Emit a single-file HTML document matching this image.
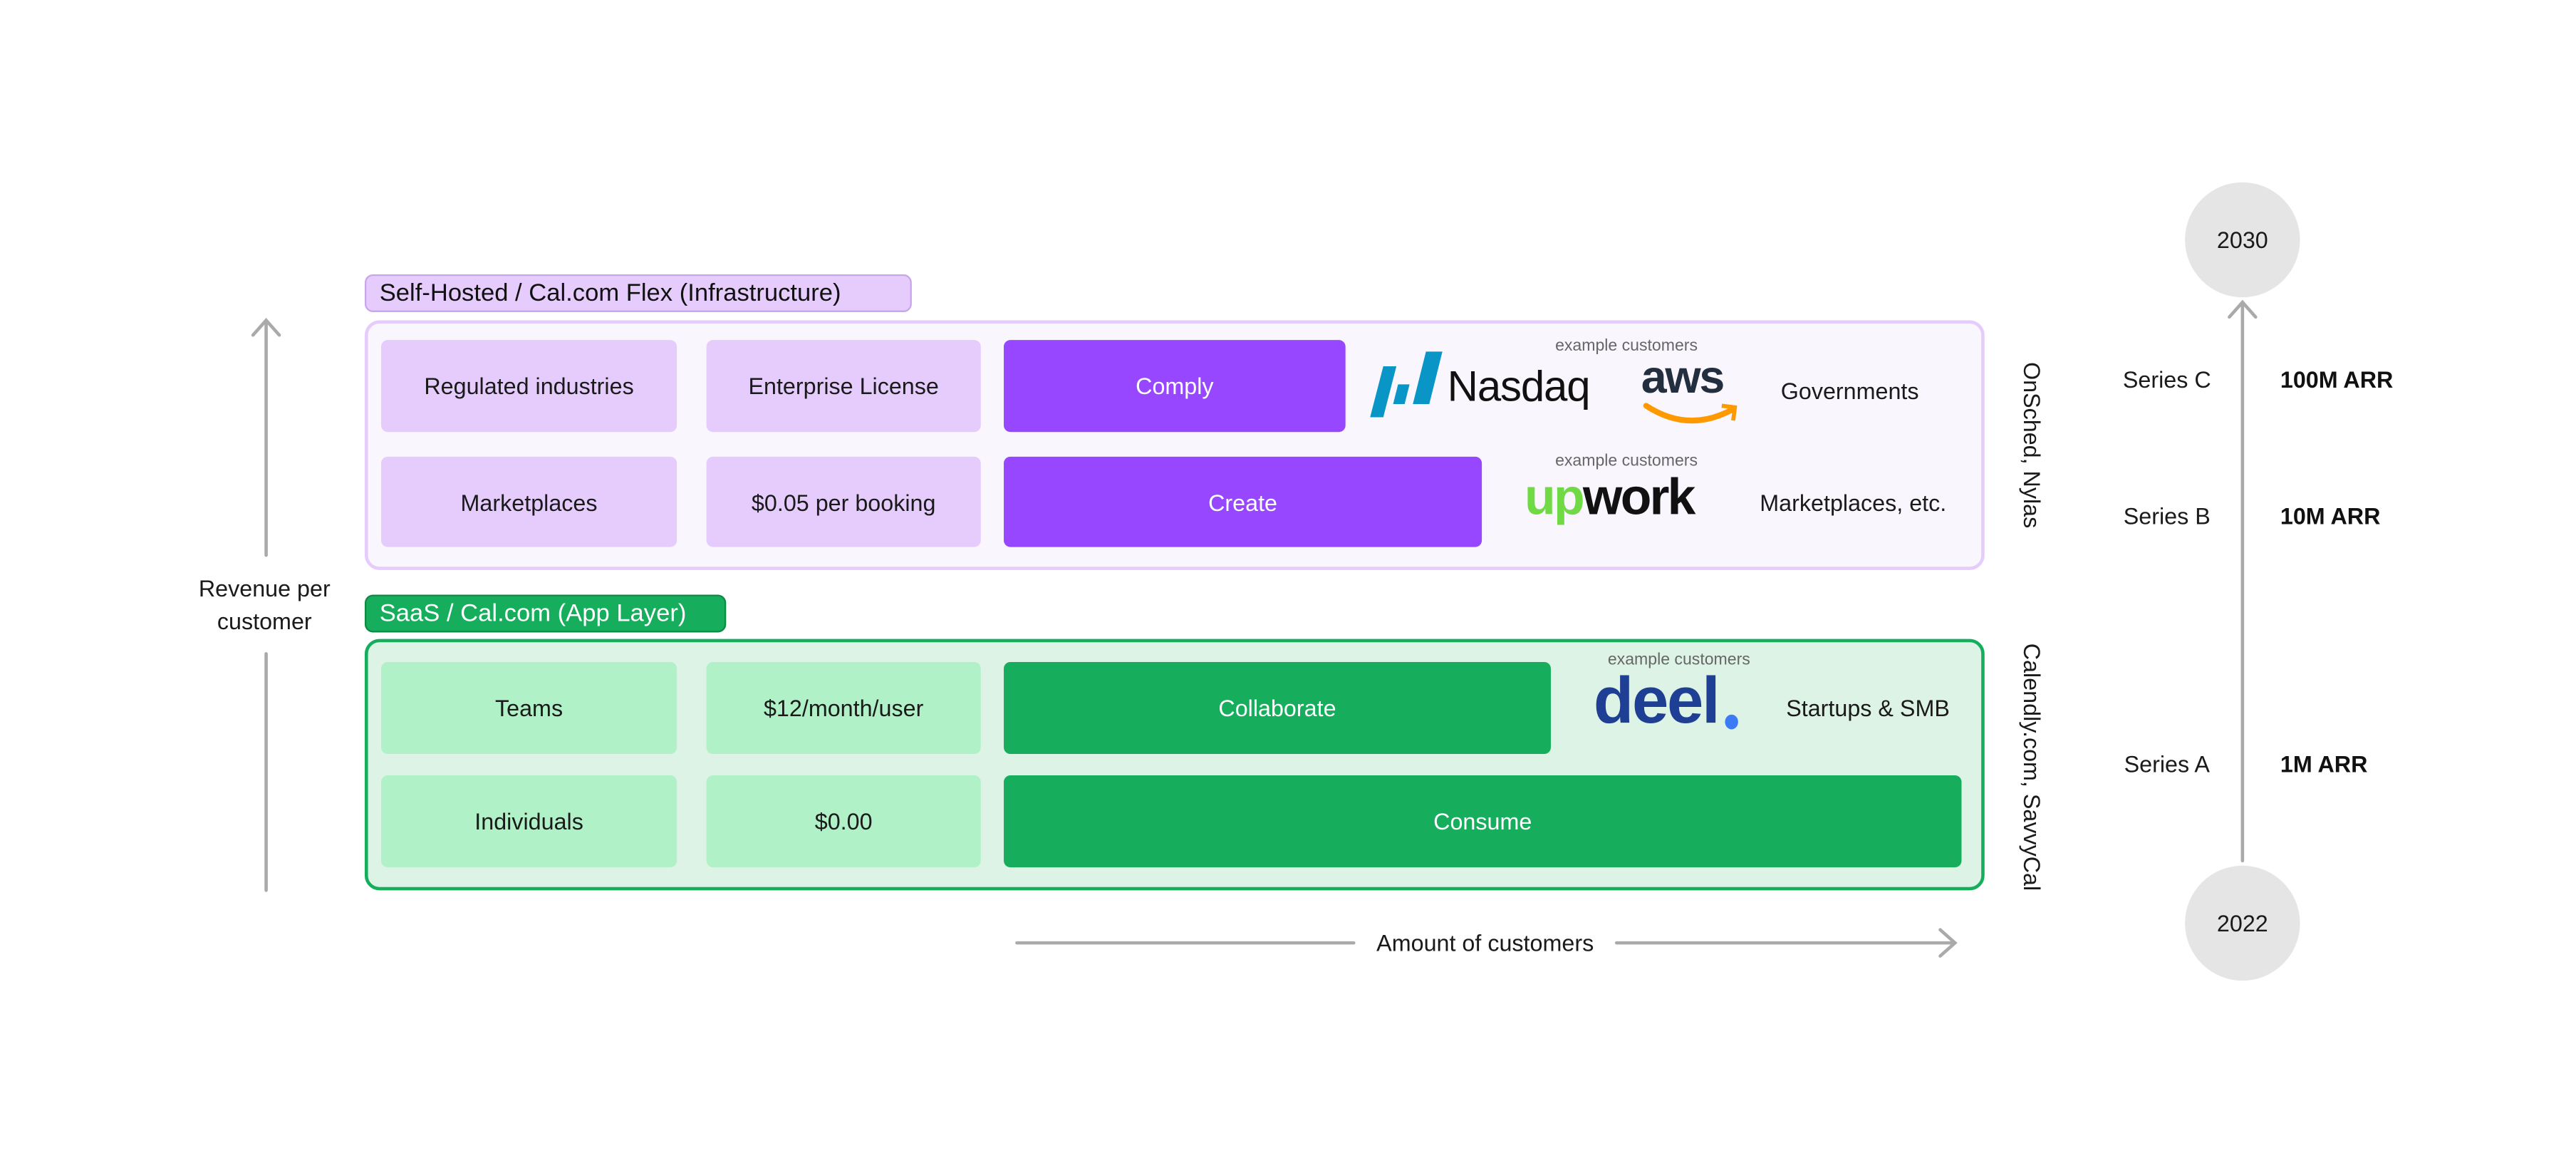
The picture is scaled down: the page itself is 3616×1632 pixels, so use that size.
<!DOCTYPE html>
<html><head><meta charset="utf-8"><style>
html,body{margin:0;padding:0;background:#fff;}
body{width:3616px;height:1632px;overflow:hidden;position:relative;font-family:"Liberation Sans",sans-serif;}
#w{position:absolute;left:0;top:0;width:1568px;height:708px;transform:scale(2.3061,2.3051);transform-origin:0 0;}
.a{position:absolute;box-sizing:border-box;}
.b{position:absolute;box-sizing:border-box;display:flex;align-items:center;justify-content:center;font-size:14px;color:#1a1a1a;border-radius:4px;}
.lp{background:#e5ccfd;}
.dp{background:#9747ff;color:#fff;}
.lg{background:#b1f1c8;}
.dg{background:#16ae5c;color:#fff;}
.t{position:absolute;white-space:nowrap;transform:translate(-50%,-50%);font-size:14px;color:#1a1a1a;}
.ex{font-size:10px;color:#666;}
.v{position:absolute;white-space:nowrap;transform:translate(-50%,-50%) rotate(90deg);font-size:14px;color:#1a1a1a;}
</style></head><body><div id="w">
<div class="a" style="left:222px;top:167px;width:333px;height:23px;background:#e5ccfd;border:1px solid #c9a6ec;border-radius:5px;font-size:15px;line-height:21px;padding-left:8px;color:#111;">Self-Hosted / Cal.com Flex (Infrastructure)</div>
<div class="a" style="left:222px;top:195px;width:986px;height:152px;background:#f9f6fe;border:2px solid #e5ccfd;border-radius:9px;"></div>
<div class="b lp" style="left:232px;top:207px;width:180px;height:56px;">Regulated industries</div>
<div class="b lp" style="left:430px;top:207px;width:167px;height:56px;">Enterprise License</div>
<div class="b dp" style="left:611px;top:207px;width:208px;height:56px;">Comply</div>
<div class="b lp" style="left:232px;top:278px;width:180px;height:55px;">Marketplaces</div>
<div class="b lp" style="left:430px;top:278px;width:167px;height:55px;">$0.05 per booking</div>
<div class="b dp" style="left:611px;top:278px;width:291px;height:55px;">Create</div>
<div class="t ex" style="left:990px;top:211px;">example customers</div>
<svg class="a" style="left:834px;top:214px;" width="50" height="42"><polygon points="8,9 16,9 8,40 0,40" fill="#0996c7"/><polygon points="17,20 24,20 21,32 14,32" fill="#0996c7"/><polygon points="34,0 44,0 36,32 26,32" fill="#0996c7"/></svg>
<div class="a" style="left:881px;top:220px;font-size:26px;color:#111;letter-spacing:-0.5px;">Nasdaq</div>
<div class="a" style="left:999px;top:214px;font-size:28px;font-weight:bold;color:#232f3e;letter-spacing:-1px;">aws</div>
<svg class="a" style="left:1000px;top:244px;" width="60" height="20"><path d="M2,3 Q28,20 55,5" stroke="#ff9900" stroke-width="3.5" fill="none" stroke-linecap="round"/><path d="M48,3 L56,4 L55,12" stroke="#ff9900" stroke-width="2.5" fill="none"/></svg>
<div class="t" style="left:1126px;top:238px;">Governments</div>
<div class="t ex" style="left:990px;top:281px;">example customers</div>
<div class="a" style="left:928px;top:283px;font-size:31px;font-weight:bold;letter-spacing:-1.2px;line-height:40px;"><span style="color:#6fda44;">up</span><span style="color:#111;">work</span></div>
<div class="t" style="left:1128px;top:306px;">Marketplaces, etc.</div>
<div class="v" style="left:1237px;top:271px;">OnSched, Nylas</div>
<div class="a" style="left:222px;top:362px;width:220px;height:23px;background:#16ae5c;border:1px solid #0e8a45;border-radius:5px;font-size:15px;line-height:21px;padding-left:8px;color:#fff;">SaaS / Cal.com (App Layer)</div>
<div class="a" style="left:222px;top:389px;width:986px;height:153px;background:#ddf3e6;border:2px solid #16ae5c;border-radius:9px;"></div>
<div class="b lg" style="left:232px;top:403px;width:180px;height:56px;">Teams</div>
<div class="b lg" style="left:430px;top:403px;width:167px;height:56px;">$12/month/user</div>
<div class="b dg" style="left:611px;top:403px;width:333px;height:56px;">Collaborate</div>
<div class="b lg" style="left:232px;top:472px;width:180px;height:56px;">Individuals</div>
<div class="b lg" style="left:430px;top:472px;width:167px;height:56px;">$0.00</div>
<div class="b dg" style="left:611px;top:472px;width:583px;height:56px;">Consume</div>
<div class="t ex" style="left:1022px;top:402px;">example customers</div>
<div class="a" style="left:970px;top:404px;font-size:40px;font-weight:bold;color:#1e3f93;letter-spacing:-1px;line-height:46px;">deel</div>
<div class="a" style="left:1050px;top:435px;width:8px;height:9px;border-radius:50%;background:#3b7cf6;"></div>
<div class="t" style="left:1137px;top:431px;">Startups &amp; SMB</div>
<div class="v" style="left:1237px;top:467px;">Calendly.com, SavvyCal</div>
<svg class="a" style="left:0;top:0;" width="1568" height="708">
<g stroke="#aaaaaa" stroke-width="2" fill="none" stroke-linecap="round">
<line x1="162" y1="196" x2="162" y2="338"/><line x1="162" y1="398" x2="162" y2="542"/>
<polyline points="154,204 162,195 170,204"/>
<line x1="619" y1="574" x2="824" y2="574"/><line x1="984" y1="574" x2="1189" y2="574"/>
<polyline points="1181,566 1190,574 1181,582"/>
<line x1="1365" y1="185" x2="1365" y2="524"/>
<polyline points="1357,193 1365,184 1373,193"/>
</g>
<circle cx="1365" cy="146" r="35" fill="#e5e5e5"/>
<circle cx="1365" cy="562" r="35" fill="#e5e5e5"/>
</svg>
<div class="t" style="left:161px;top:358px;">Revenue per</div>
<div class="t" style="left:161px;top:378px;">customer</div>
<div class="t" style="left:904px;top:574px;">Amount of customers</div>
<div class="t" style="left:1365px;top:146px;">2030</div>
<div class="t" style="left:1365px;top:562px;">2022</div>
<div class="t" style="left:1319px;top:231px;">Series C</div>
<div class="t" style="left:1319px;top:314px;">Series B</div>
<div class="t" style="left:1319px;top:465px;">Series A</div>
<div class="a" style="left:1388px;top:223px;font-size:14px;font-weight:bold;color:#111;">100M ARR</div>
<div class="a" style="left:1388px;top:306px;font-size:14px;font-weight:bold;color:#111;">10M ARR</div>
<div class="a" style="left:1388px;top:457px;font-size:14px;font-weight:bold;color:#111;">1M ARR</div>
</div></body></html>
